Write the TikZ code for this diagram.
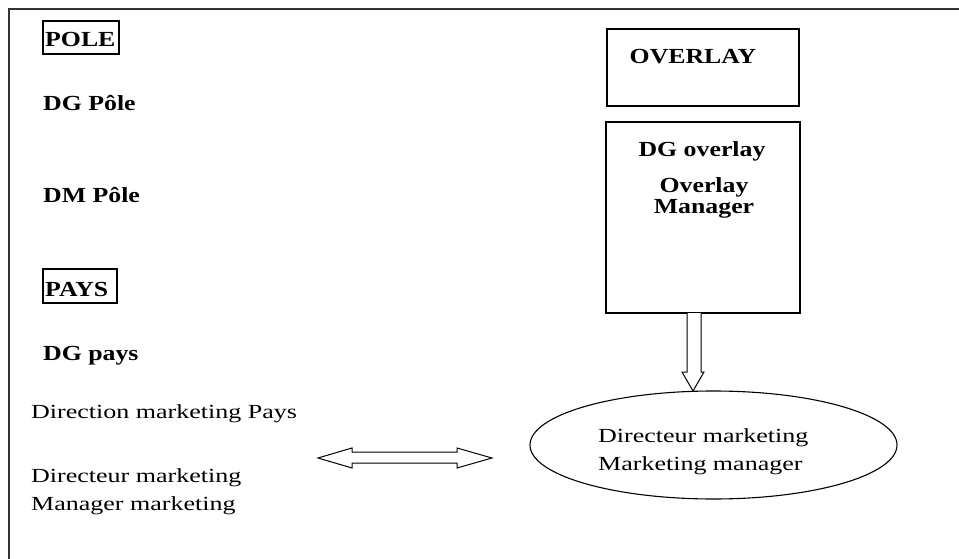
\documentclass[tikz,border=0pt]{standalone}
\usepackage{fontspec}
\setmainfont{Liberation Serif}
\newfontfamily\rfont{Liberation Serif}[FakeStretch=1.3]
\newfontfamily\bfont{Liberation Serif}[FakeStretch=1.2]
\usetikzlibrary{shapes.geometric}
\begin{document}
\begin{tikzpicture}[x=1pt,y=-1pt,
  btxt/.style={inner sep=0pt, font=\bfont\bfseries\fontsize{21.5}{26}\selectfont},
  rtxt/.style={inner sep=0pt, font=\rfont\fontsize{20}{24}\selectfont},
  box/.style={draw, line width=1.2pt, inner sep=0pt},
  blockarrow/.style={draw, line width=1pt, fill=white}]
\useasboundingbox (0,0) rectangle (959,559);
% frame
\draw[line width=1.6pt, color=black!80] (9,559) -- (9,9) -- (959,9);
% left column
\node[box, minimum width=76, minimum height=33] (polebox) at (81,37.5) {};
\node[btxt, anchor=base west] (pole) at (45,47) {POLE};
\node[btxt, anchor=base west] (dgpole) at (43,111) {DG Pôle};
\node[btxt, anchor=base west] (dmpole) at (43,202) {DM Pôle};
\node[box, minimum width=74, minimum height=34] (paysbox) at (80,286) {};
\node[btxt, anchor=base west] (pays) at (45,296) {PAYS};
\node[btxt, anchor=base west] (dgpays) at (43,360) {DG pays};
\node[rtxt, anchor=base west] (dirmkt) at (31,418) {Direction marketing Pays};
\node[rtxt, anchor=base west] (dirm1) at (31,482) {Directeur marketing};
\node[rtxt, anchor=base west] (dirm2) at (31,510) {Manager marketing};
% right column
\node[box, minimum width=192, minimum height=77] (ovbox) at (703,67.5) {};
\node[btxt, anchor=base] (ov) at (693,64) {OVERLAY};
\node[box, minimum width=194, minimum height=191] (dgov) at (703,217.5) {};
\node[btxt, anchor=base] (dgovt) at (702,157) {DG overlay};
\node[btxt, anchor=base] (ovm1) at (704,193) {Overlay};
\node[btxt, anchor=base] (ovm2) at (704,213) {Manager};
\node[ellipse, draw, line width=1.1pt, minimum width=367, minimum height=108, inner sep=0pt] (ell) at (713.5,445) {};
\node[rtxt, anchor=base west] (ell1) at (598,442) {Directeur marketing};
\node[rtxt, anchor=base west] (ell2) at (598,470) {Marketing manager};
% down block arrow
\draw[blockarrow] (687,313) -- (687,372) -- (682,372) -- (693,391) -- (704,372) -- (701,372) -- (701,313);
% double block arrow
\draw[blockarrow] (318,458) -- (352,448) -- (352,452) -- (457,452) -- (457,448) -- (492,458)
  -- (457,468) -- (457,463) -- (352,463) -- (352,468) -- cycle;
\end{tikzpicture}
\end{document}
